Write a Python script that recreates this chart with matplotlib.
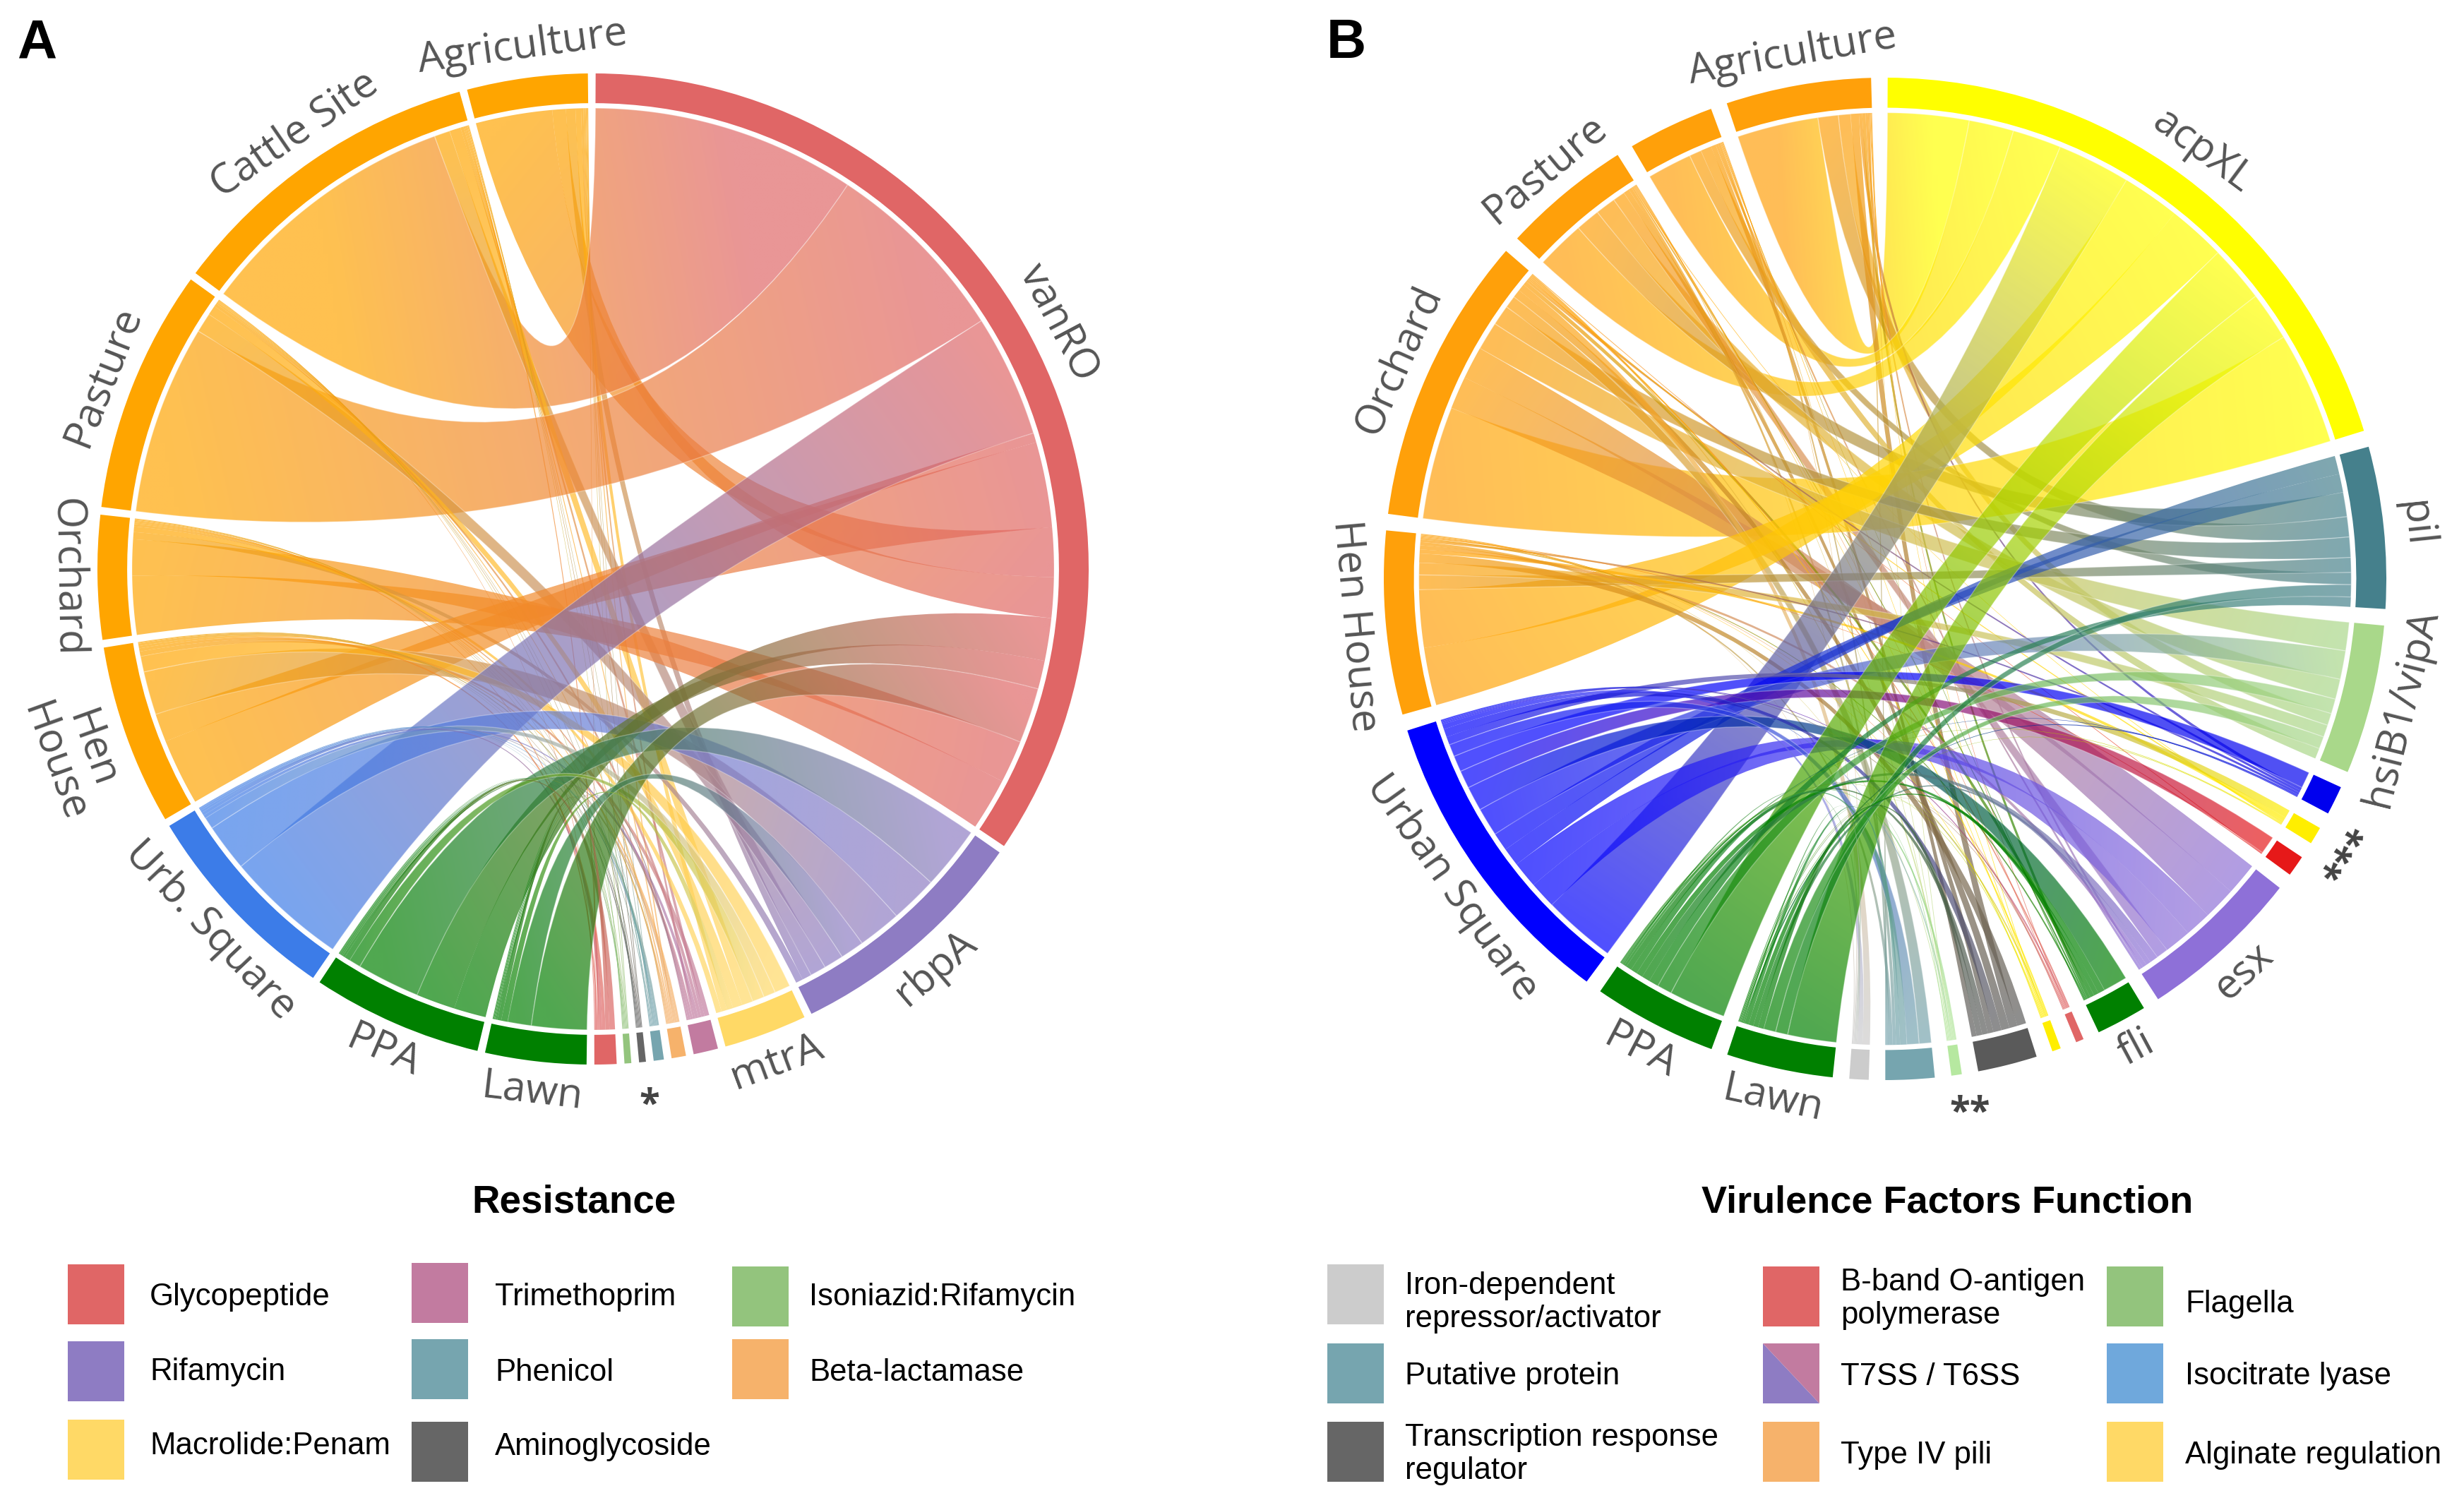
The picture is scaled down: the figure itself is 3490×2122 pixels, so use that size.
import numpy as np
import matplotlib
matplotlib.use("Agg")
import matplotlib.pyplot as plt
from matplotlib.patches import Wedge, PathPatch, Rectangle, Polygon
from matplotlib.path import Path
from matplotlib.colors import to_rgb

W, H = 3490, 2122

# panel A
sites_a = ["Agriculture", "Cattle Site", "Pasture", "Orchard", "Hen\nHouse", "Urb. Square", "PPA", "Lawn"]
site_colors_a = ["#ffa500", "#ffa500", "#ffa500", "#ffa500", "#ffa500", "#3c7ce8", "#008000", "#008000"]
genes_a = ["vanRO", "rbpA", "mtrA", "", "", "", "", "", ""]
gene_colors_a = ["#e06666", "#8e7cc3", "#ffd966", "#c27ba0", "#f6b26b", "#76a5af", "#666666", "#93c47d", "#e06666"]
flows_a = [
    [11.4, 1.2, 0.7, 0.3, 0.2, 0.1, 0.1, 0.1, 0.1],
    [33.4, 2.0, 1.4, 0.4, 0.2, 0.1, 0.1, 0.1, 0.2],
    [24.0, 2.5, 1.2, 0.4, 0.2, 0.1, 0.1, 0.1, 0.1],
    [12.0, 0.9, 0.7, 0.3, 0.2, 0.1, 0.1, 0.1, 0.2],
    [12.0, 5.5, 2.0, 0.6, 0.3, 0.3, 0.1, 0.1, 0.4],
    [15.5, 6.0, 1.5, 0.4, 0.3, 0.2, 0.1, 0.1, 0.4],
    [9.0, 8.0, 1.5, 0.3, 0.2, 0.2, 0.1, 0.1, 0.7],
    [7.0, 3.0, 0.8, 0.2, 0.1, 0.1, 0.1, 0.1, 0.5],
]
# site order inside the big gene arc, clockwise (index into sites_a)
big_order_a = [1, 2, 5, 4, 0, 6, 7, 3]
# ribbons that cross over themselves: (site, gene): split of the site end, split of the gene end
crossed_a = {(0, 0): (0.85, 0.55), (4, 0): (0.7, 0.1), (3, 0): (0.62, 0.45), (6, 0): (0.45, 0.6)}

# panel B
sites_b = ["Agriculture", "", "Pasture", "Orchard", "Hen House", "Urban Square", "PPA", "Lawn"]
site_colors_b = ["#ffa00a", "#ffa00a", "#ffa00a", "#ffa00a", "#ffa00a", "#0000ff", "#008000", "#008000"]
genes_b = ["acpXL", "pil", "hsiB1/vipA", "", "", "", "esx", "fli", "", "", "", "", "", ""]
gene_colors_b = ["#ffff00", "#45808c", "#a9d88a", "#0000ee", "#ffee00", "#e61919", "#8e70d8", "#008000",
                 "#e06666", "#ffee00", "#5a5a5a", "#b6e8a0", "#76a5af", "#cccccc"]
flows_b = [
    [10.0, 2.5, 1.5, 0.4, 0.0, 0.0, 0.3, 0.4, 0.1, 0.1, 1.0, 0.1, 0.2, 0.0],
    [5.5, 1.5, 1.3, 0.0, 0.0, 0.0, 0.3, 0.1, 0.0, 0.1, 0.6, 0.1, 0.3, 0.1],
    [6.0, 3.0, 2.5, 0.0, 0.1, 0.0, 1.5, 0.2, 0.1, 0.1, 0.7, 0.1, 0.4, 0.1],
    [13.9, 2.5, 3.5, 0.3, 0.2, 0.1, 8.0, 0.5, 0.2, 0.2, 1.0, 0.2, 1.5, 0.9],
    [14.2, 1.8, 1.5, 0.3, 0.5, 0.1, 0.5, 0.2, 0.1, 0.1, 1.1, 0.1, 0.4, 0.1],
    [9.0, 4.5, 3.5, 2.0, 1.0, 2.2, 6.5, 3.0, 0.2, 0.2, 1.0, 0.2, 1.5, 0.6],
    [7.0, 1.2, 1.8, 0.1, 0.1, 0.0, 1.0, 0.8, 0.1, 0.1, 0.7, 0.3, 0.8, 0.2],
    [6.0, 1.5, 1.5, 0.2, 0.1, 0.0, 0.6, 0.6, 0.1, 0.1, 0.7, 0.1, 0.5, 0.2],
]
big_order_b = [0, 1, 2, 5, 4, 6, 7, 3]
crossed_b = {(4, 0): (0.5, 0.5), (3, 6): (0.5, 0.5), (5, 6): (0.5, 0.5), (5, 1): (0.5, 0.5)}

# legends
legend_a = [
    ("Glycopeptide", "#e06666"), ("Rifamycin", "#8e7cc3"), ("Macrolide:Penam", "#ffd966"),
    ("Trimethoprim", "#c27ba0"), ("Phenicol", "#76a5af"), ("Aminoglycoside", "#666666"),
    ("Isoniazid:Rifamycin", "#93c47d"), ("Beta-lactamase", "#f6b26b"),
]
legend_a_box = [(96, 1791), (96, 1900), (96, 2011), (583, 1789), (583, 1897), (583, 2014), (1037, 1794), (1037, 1897)]
legend_a_text = [(212, 1837), (212, 1944), (212, 2049), (701, 1837), (701, 1944), (701, 2049), (1146, 1837), (1146, 1944)]

legend_b = [
    ("Iron-dependent\nrepressor/activator", "#cccccc"), ("Putative protein", "#76a5af"),
    ("Transcription response\nregulator", "#666666"), ("B-band O-antigen\npolymerase", "#e06666"),
    ("T7SS / T6SS", None), ("Type IV pili", "#f6b26b"),
    ("Flagella", "#93c47d"), ("Isocitrate lyase", "#6fa8dc"), ("Alginate regulation", "#ffd966"),
]
legend_b_box = [(1880, 1791), (1880, 1903), (1880, 2014), (2497, 1794), (2497, 1903), (2497, 2014),
                (2984, 1794), (2984, 1903), (2984, 2014)]
legend_b_text = [(1990, 1845), (1990, 1950), (1990, 2060), (2607, 1840), (2607, 1950), (2607, 2061),
                 (3095, 1847), (3095, 1950), (3095, 2061)]

ALPHA = 0.69
RIBBON_R = 0.93
LABEL_FONT = ["Open Sans", "DejaVu Sans"]
LEGEND_FONT = ["Liberation Sans", "DejaVu Sans"]

grid = np.linspace(-1, 1, 200)
gx, gy = np.meshgrid(grid, grid)


def pt(angle, r=RIBBON_R):
    a = np.radians(angle)
    return r * np.sin(a), r * np.cos(a)


def arc_pts(a0, a1):
    return [pt(a) for a in np.linspace(a0, a1, max(int(abs(a1 - a0) * 2), 2) + 1)]


def ribbon(ax, a0, a1, b0, b1, c0, c1, z, seam):
    arc1 = arc_pts(a0, a1)
    arc2 = arc_pts(b0, b1)
    verts = list(arc1)
    codes = [Path.MOVETO] + [Path.LINETO] * (len(arc1) - 1)
    verts += [(0, 0), arc2[0]]
    codes += [Path.CURVE3, Path.CURVE3]
    verts += arc2[1:]
    codes += [Path.LINETO] * (len(arc2) - 1)
    verts += [(0, 0), arc1[0]]
    codes += [Path.CURVE3, Path.CURVE3]
    edge = (1, 1, 1, 0.3) if seam else "none"
    patch = PathPatch(Path(verts, codes), transform=ax.transData, fc="none", ec=edge, lw=1.0, zorder=z + 0.5)
    ax.add_patch(patch)

    # colour runs from the site end to the gene end of the ribbon
    p0 = np.array(pt((a0 + a1) / 2))
    p1 = np.array(pt((b0 + b1) / 2))
    d = p1 - p0
    t = np.clip(((gx - p0[0]) * d[0] + (gy - p0[1]) * d[1]) / (d @ d), 0, 1)
    rgba = np.zeros(gx.shape + (4,))
    for k in range(3):
        rgba[..., k] = c0[k] + (c1[k] - c0[k]) * t
    rgba[..., 3] = ALPHA
    im = ax.imshow(rgba, extent=(-1, 1, -1, 1), origin="lower", interpolation="bilinear",
                   zorder=z, aspect="auto")
    im.set_clip_path(patch)


def label_rotation(angle):
    if angle < 90:
        return -angle
    if angle < 280:
        return 180 - angle
    return 360 - angle


def chord(pos, sites, site_colors, genes, gene_colors, flows, big_order, crossed, gap):
    cx, cy, R = pos
    m = 1.2
    ax = fig.add_axes([(cx - m * R) / W, 1 - (cy + m * R) / H, 2 * m * R / W, 2 * m * R / H])
    ax.axis("off")
    flows = np.array(flows)
    n_s, n_g = flows.shape

    # clockwise from the top: genes first, then sites from Lawn back to Agriculture
    sectors = [("g", j) for j in range(n_g)] + [("s", i) for i in range(n_s - 1, -1, -1)]
    totals = [flows[:, k].sum() if kind == "g" else flows[k, :].sum() for kind, k in sectors]
    unit = (360 - gap * len(sectors)) / sum(totals)

    start = {}
    angle = 0.3
    for sec, tot in zip(sectors, totals):
        start[sec] = (angle, angle + tot * unit)
        angle += tot * unit + gap

    # where each flow sits inside its two arcs
    s_pos = {}
    for i in range(n_s):
        a = start[("s", i)][0]
        for j in np.argsort(-flows[i, :], kind="stable"):
            s_pos[(i, j)] = (a, a + flows[i, j] * unit)
            a += flows[i, j] * unit
    g_pos = {}
    for j in range(n_g):
        a = start[("g", j)][0]
        order = big_order if j == 0 else np.argsort(-flows[:, j], kind="stable")
        for i in order:
            g_pos[(i, j)] = (a, a + flows[i, j] * unit)
            a += flows[i, j] * unit

    z = 2
    for i in range(n_s):
        for j in range(n_g):
            if flows[i, j] <= 0:
                continue
            a0, a1 = s_pos[(i, j)]
            b0, b1 = g_pos[(i, j)]
            c0, c1 = to_rgb(site_colors[i]), to_rgb(gene_colors[j])
            seam = flows[i, j] >= 1.5
            if (i, j) in crossed:
                fs, ft = crossed[(i, j)]
                am = a0 + fs * (a1 - a0)
                bm = b0 + ft * (b1 - b0)
                ribbon(ax, a0, am, b0, bm, c0, c1, z, False)
                ribbon(ax, am, a1, bm, b1, c0, c1, z + 1, False)
                z += 2
            else:
                ribbon(ax, a0, a1, b0, b1, c0, c1, z, seam)
                z += 1

    for sec in sectors:
        kind, k = sec
        a0, a1 = start[sec]
        col = gene_colors[k] if kind == "g" else site_colors[k]
        name = genes[k] if kind == "g" else sites[k]
        ax.add_patch(Wedge((0, 0), 1.0, 90 - a1, 90 - a0, width=0.06, fc=col, ec="none", zorder=z + 1))
        if name:
            mid = (a0 + a1) / 2
            r = 1.115 if "\n" in name else 1.062
            x, y = pt(mid, r)
            ax.text(x, y, name, rotation=label_rotation(mid), rotation_mode="anchor", ha="center", va="center",
                    fontsize=42, color="#555555", family=LABEL_FONT, linespacing=0.95, zorder=z + 2)
    ax.set_xlim(-m, m)
    ax.set_ylim(-m, m)
    ax.set_aspect("equal")
    return ax


fig = plt.figure(figsize=(W / 100, H / 100), dpi=100)

ax_a = chord((840, 806, 702), sites_a, site_colors_a, genes_a, gene_colors_a, flows_a, big_order_a, crossed_a, 0.9)
ax_b = chord((2670, 820, 710), sites_b, site_colors_b, genes_b, gene_colors_b, flows_b, big_order_b, crossed_b, 1.9)

# asterisk groups of unlabelled small sectors
x, y = pt(174, 1.09)
ax_a.text(x, y, "*", ha="center", va="center", fontsize=38, color="#444444", family=LABEL_FONT, fontweight="bold")
x, y = pt(171, 1.08)
ax_b.text(x, y, "**", ha="center", va="center", fontsize=38, color="#444444", family=LABEL_FONT, fontweight="bold")
x, y = pt(121, 1.085)
ax_b.text(x, y, "***", rotation=57, rotation_mode="anchor", ha="center", va="center", fontsize=38,
          color="#444444", family=LABEL_FONT, fontweight="bold")

# page overlay for panel letters and legends, in pixels
page = fig.add_axes([0, 0, 1, 1])
page.set_xlim(0, W)
page.set_ylim(H, 0)
page.axis("off")
page.patch.set_visible(False)

page.text(24, 62, "A", fontsize=56, fontweight="bold", family=LEGEND_FONT, va="center")
page.text(1879, 62, "B", fontsize=56, fontweight="bold", family=LEGEND_FONT, va="center")
page.text(813, 1704, "Resistance", fontsize=39.4, fontweight="bold", family=LEGEND_FONT, ha="center", va="center")
page.text(2758, 1704, "Virulence Factors Function", fontsize=39, fontweight="bold", family=LEGEND_FONT,
          ha="center", va="center")

for (name, col), (bx, by), (tx, ty) in zip(legend_a, legend_a_box, legend_a_text):
    page.add_patch(Rectangle((bx, by), 80, 85, fc=col, ec="none"))
    page.text(tx, ty, name, fontsize=31.5, family=LEGEND_FONT, va="center")

for (name, col), (bx, by), (tx, ty) in zip(legend_b, legend_b_box, legend_b_text):
    if col is None:
        page.add_patch(Polygon([(bx, by), (bx + 80, by + 85), (bx, by + 85)], fc="#8e7cc3", ec="none"))
        page.add_patch(Polygon([(bx, by), (bx + 80, by), (bx + 80, by + 85)], fc="#c27ba0", ec="none"))
    else:
        page.add_patch(Rectangle((bx, by), 80, 85, fc=col, ec="none"))
    page.text(tx, ty, name, fontsize=31.5, family=LEGEND_FONT, va="center", linespacing=1.2)

fig.savefig("out.png", dpi=100, facecolor="white")
